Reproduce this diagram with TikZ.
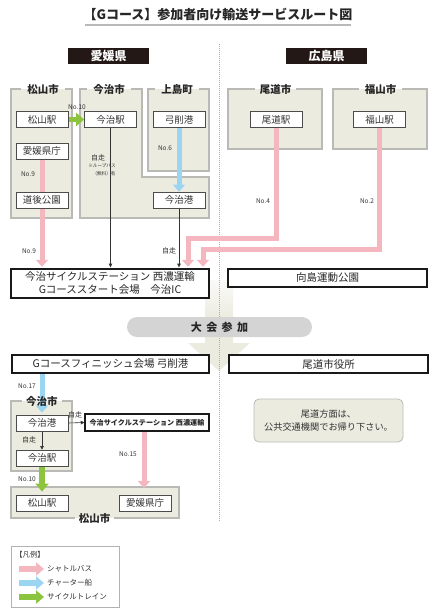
\documentclass[tikz,border=0pt]{standalone}
\usepackage{fontspec}
\setmainfont{Noto Sans CJK JP}
\usetikzlibrary{arrows.meta,calc}
\pgfdeclarelayer{background}
\pgfsetlayers{background,main}
\definecolor{beige}{HTML}{ECEBE0}
\definecolor{grpline}{HTML}{B9B9B5}
\definecolor{pinkc}{HTML}{F5B7BF}
\definecolor{bluec}{HTML}{9CD5F2}
\definecolor{greenc}{HTML}{8DC43F}
\definecolor{darkhd}{HTML}{231815}
\definecolor{pillc}{HTML}{D4D4D4}
\definecolor{txt}{HTML}{333333}
\begin{document}
\begin{tikzpicture}[x=1pt,y=-1pt,
  stn/.style={draw=black!70, line width=0.7pt, fill=white, minimum width=52pt, minimum height=16pt, inner sep=0pt, font=\fontsize{9.5}{11}\selectfont, text=txt},
  bigbox/.style={draw=black!90, line width=1.4pt, fill=white, inner sep=0pt, font=\fontsize{10.5}{13}\selectfont, text=black!85, align=center},
  grptitle/.style={font=\bfseries\fontsize{10.5}{12}\selectfont, text=black!85, inner sep=0pt},
  grpborder/.style={draw=grpline, line width=1.3pt},
  lbl/.style={font=\fontsize{6.5}{7}\selectfont, text=txt, inner sep=0pt},
  hdr/.style={fill=darkhd, text=white, minimum width=81pt, minimum height=16pt, inner sep=0pt, font=\bfseries\fontsize{12}{13}\selectfont},
  pinkarr/.style={draw=pinkc, line width=5pt, line join=miter, -{Triangle[width=12pt,length=7pt]}},
  bluearr/.style={draw=bluec, line width=5pt, -{Triangle[width=12pt,length=7pt]}},
  greenarr/.style={draw=greenc, line width=5.5pt, -{Triangle[width=13pt,length=8pt]}},
  thinarr/.style={draw=black!80, line width=0.6pt, -{Triangle[width=3.6pt,length=3.6pt]}},
  legarr/.style={line width=6pt, -{Triangle[width=13pt,length=8pt]}},
]
\useasboundingbox (0,0) rectangle (436,611);

% ---------- title ----------
\node[font=\bfseries\fontsize{13}{14}\selectfont, text=black!85] (title) at (218,14) {【Gコース】参加者向け輸送サービスルート図};
\node[hdr] (ehime) at (108.5,56) {愛媛県};
\node[hdr] (hiroshima) at (326.5,56) {広島県};

% ---------- top stations ----------
\node[stn] (matst) at (42,119.5) {松山駅};
\node[stn] (kencho) at (42,151) {愛媛県庁};
\node[stn] (dogo) at (42,200) {道後公園};
\node[stn] (imast) at (110.5,119.5) {今治駅};
\node[stn] (yuge) at (179,119.5) {弓削港};
\node[stn] (imaport) at (179,200) {今治港};
\node[stn] (onost) at (276,119.5) {尾道駅};
\node[stn] (fukust) at (379.5,119.5) {福山駅};

\node[grptitle] (t-mat) at (43,89) {松山市};
\node[grptitle] (t-ima) at (109,89) {今治市};
\node[grptitle] (t-kami) at (177,89) {上島町};
\node[grptitle] (t-ono) at (275.5,89) {尾道市};
\node[grptitle] (t-fuku) at (380.5,89) {福山市};

% ---------- start / goal boxes ----------
\node[bigbox, minimum width=198pt, minimum height=29pt] (start) at (110,283.5)
  {今治サイクルステーション 西濃運輸\\Gコーススタート会場　今治IC};
\node[bigbox, minimum width=199pt, minimum height=18pt] (mukai) at (327.5,278) {向島運動公園};
\node[fill=pillc, rounded corners=10pt, minimum width=185pt, minimum height=20pt, inner sep=0pt,
  font=\bfseries\fontsize{11}{12}\selectfont, text=black!85] (pill) at (219.5,327)
  {大\hspace{4.5pt}会\hspace{4.5pt}参\hspace{4.5pt}加};
\node[bigbox, minimum width=197pt, minimum height=18pt] (finish) at (110.5,364) {Gコースフィニッシュ会場 弓削港};
\node[bigbox, minimum width=199pt, minimum height=18pt] (onoshi) at (328.5,364) {尾道市役所};

% ---------- bottom stations ----------
\node[stn] (imaport2) at (42,423) {今治港};
\node[stn] (imast2) at (42,458) {今治駅};
\node[bigbox, line width=1.3pt, minimum width=124pt, minimum height=17pt, font=\bfseries\fontsize{7.1}{8}\selectfont] (cycle2) at (147,422.5)
  {今治サイクルステーション 西濃運輸};
\node[stn] (matst2) at (42,503) {松山駅};
\node[stn] (kencho2) at (145,503) {愛媛県庁};
\node[grptitle] (t-ima2) at (42,401) {今治市};
\node[grptitle] (t-mat2) at (94.5,518) {松山市};

% ---------- note ----------
\node[draw=gray!55, line width=0.8pt, fill=beige, rounded corners=5pt, minimum width=149pt, minimum height=43pt,
  align=center, font=\fontsize{9.2}{13}\selectfont, text=txt] (note) at (328.5,420.5)
  {尾道方面は、\\公共交通機関でお帰り下さい。};

% ---------- legend ----------
\node[draw=gray!60, line width=0.8pt, fill=white, minimum width=108pt, minimum height=61pt] (legend) at (65,576.5) {};
\node[lbl, font=\fontsize{7.3}{8}\selectfont] (lgtitle) at (30,555) {【凡例】};
\coordinate (lg1a) at (19,569); \coordinate (lg1b) at (44,569);
\coordinate (lg2a) at (19,583); \coordinate (lg2b) at (44,583);
\coordinate (lg3a) at (19,597); \coordinate (lg3b) at (44,597);
\node[lbl, anchor=west, font=\fontsize{7.5}{8}\selectfont] (lg1t) at (47,569) {シャトルバス};
\node[lbl, anchor=west, font=\fontsize{7.5}{8}\selectfont] (lg2t) at (47,583) {チャーター船};
\node[lbl, anchor=west, font=\fontsize{7.5}{8}\selectfont] (lg3t) at (47,597) {サイクルトレイン};
\draw[legarr, draw=pinkc] (lg1a) -- (lg1b);
\draw[legarr, draw=bluec] (lg2a) -- (lg2b);
\draw[legarr, draw=greenc] (lg3a) -- (lg3b);

% ---------- labels ----------
\node[lbl] (l-no10a) at (77,107.5) {No.10};
\node[lbl] (l-no9a) at (28,174) {No.9};
\node[lbl] (l-no9b) at (29,251) {No.9};
\node[lbl] (l-no6) at (165,148) {No.6};
\node[lbl, font=\fontsize{7}{8}\selectfont] (l-jiso1) at (98,157.5) {自走};
\node[lbl, font=\fontsize{4.6}{5}\selectfont] (l-loop1) at (102,166) {※ループバス};
\node[lbl, font=\fontsize{4.6}{5}\selectfont] (l-loop2) at (104,174) {（無料）有};
\node[lbl, font=\fontsize{7}{8}\selectfont] (l-jiso2) at (169,251) {自走};
\node[lbl] (l-no4) at (263,201) {No.4};
\node[lbl] (l-no2) at (367,201) {No.2};
\node[lbl] (l-no17) at (27,386) {No.17};
\node[lbl, font=\fontsize{7}{8}\selectfont] (l-jiso3) at (75,414.5) {自走};
\node[lbl, font=\fontsize{7}{8}\selectfont] (l-jiso4) at (29,440) {自走};
\node[lbl] (l-no15) at (128,454) {No.15};
\node[lbl] (l-no10b) at (27,479) {No.10};

\coordinate (onoturn) at (188,238);
\coordinate (fukuturn) at (203,249.5);
\coordinate (c2s) at (144,431);
\coordinate (c2e) at (144,488);

\begin{pgfonlayer}{background}
  % title underline
  \draw[line width=1.3pt, gray!55] (85,25) -- (351,25);
  % group fills
  \fill[beige] (11,89) rectangle (72,218);
  \fill[beige] (80,89) -- (142,89) -- (142,177) -- (209,177) -- (209,218) -- (80,218) -- cycle;
  \fill[beige] (148,89) rectangle (209,171);
  \fill[beige] (228,89) rectangle (322,149);
  \fill[beige] (333,89) rectangle (427,149);
  \fill[beige] (11,401) rectangle (72,471);
  \fill[beige] (11,487) rectangle (179,518);
  % group borders (gap for title)
  \draw[grpborder] (65,89) -- (72,89) -- (72,218) -- (11,218) -- (11,89) -- (21,89);
  \draw[grpborder] (131,89) -- (142,89) -- (142,177) -- (209,177) -- (209,218) -- (80,218) -- (80,89) -- (87,89);
  \draw[grpborder] (199,89) -- (209,89) -- (209,171) -- (148,171) -- (148,89) -- (155,89);
  \draw[grpborder] (296,89) -- (322,89) -- (322,149) -- (228,149) -- (228,89) -- (255,89);
  \draw[grpborder] (402,89) -- (427,89) -- (427,149) -- (333,149) -- (333,89) -- (359,89);
  \draw[grpborder] (62,401) -- (72,401) -- (72,471) -- (11,471) -- (11,401) -- (22,401);
  \draw[grpborder] (75,518) -- (11,518) -- (11,487) -- (179,487) -- (179,518) -- (114,518);
  % big arrow
  \shade[top color=beige!25, bottom color=beige] (205,280) rectangle (233,318);
  \fill[beige] (205,317) -- (233,317) -- (233,343) -- (250,343) -- (219,371) -- (188,343) -- (205,343) -- cycle;
  % separator
  \draw[dash pattern=on 1pt off 1pt, line width=0.9pt, gray!65] (219,44) -- (219,521);
  % connectors (top)
  \draw[greenarr] (matst.east) -- (imast.west);
  \draw[pinkarr, shorten >=1.5pt] (kencho.south) -- (kencho |- start.north);
  \draw[bluearr] (yuge.south) -- (imaport.north);
  \draw[thinarr, shorten >=1pt] (imast.south) -- (imast |- start.north);
  \draw[thinarr, shorten >=1pt] (imaport.south) -- (imaport |- start.north);
  \draw[pinkarr, shorten >=1.5pt] (onost.south) |- (onoturn) -- (onoturn |- start.north);
  \draw[pinkarr, shorten >=1.5pt] (fukust.south) |- (fukuturn) -- (fukuturn |- start.north);
  % connectors (bottom)
  \draw[bluearr, shorten >=2pt] (imaport2 |- finish.south) -- (imaport2.north);
  \draw[thinarr] (imaport2.south) -- (imast2.north);
  \draw[thinarr] (imaport2.east) -- (cycle2.west);
  \draw[pinkarr] (c2s) -- (c2e);
  \draw[greenarr, shorten >=3pt] (imast2.south) -- (matst2.north);
\end{pgfonlayer}
\end{tikzpicture}
\end{document}
